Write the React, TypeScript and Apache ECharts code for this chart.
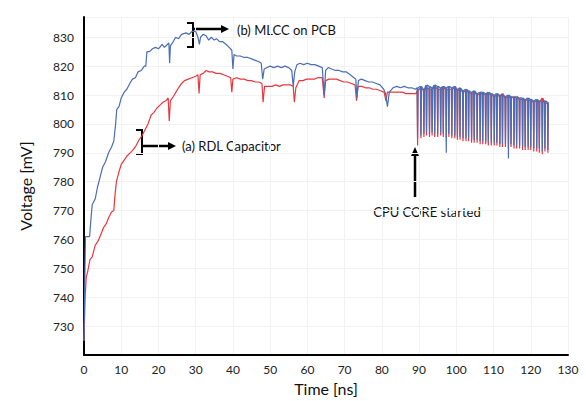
import React, { useEffect, useRef } from "react";
import * as echarts from "echarts";

// ---- Data ----
// MLCC on PCB (blue), before CPU core start
const blueTimes = [0, 0.2, 0.4, 1.5, 1.8, 2.2, 3.0, 3.6, 4.2, 5.0, 5.8, 6.6, 7.4, 8.0, 8.5, 8.8, 9.4, 10.0, 10.8, 11.5, 12.3, 13.0, 13.8, 14.5, 15.4, 16.2, 16.6, 16.9, 17.6, 18.4, 19.2, 20.0, 21.0, 21.6, 22.4, 22.8, 23.0, 23.2, 24.0, 24.6, 25.4, 26.2, 27.4, 28.2, 29.0, 30.0, 30.6, 31.0, 31.3, 32.0, 32.8, 33.5, 34.2, 35.0, 35.6, 36.4, 37.2, 38.2, 39.0, 39.7, 40.0, 40.3, 41.0, 42.0, 43.0, 44.0, 45.0, 46.0, 47.0, 47.6, 48.0, 48.4, 49.2, 50.0, 51.0, 52.0, 53.0, 54.0, 55.0, 55.8, 56.2, 56.6, 57.2, 58.0, 59.0, 60.0, 61.0, 62.0, 63.0, 64.0, 64.5, 64.9, 65.6, 66.5, 67.5, 68.5, 69.5, 70.5, 71.5, 72.5, 73.0, 73.3, 73.7, 74.5, 75.5, 76.5, 77.5, 78.5, 79.5, 80.5, 81.0, 81.5, 82.0, 83.0, 84.0, 85.0, 86.0, 87.0, 88.0, 89.0];
const blueValues = [725, 745, 761, 761, 766, 772, 774, 778, 781, 785, 787, 790, 792, 794, 800, 805, 806, 809, 811, 812, 814, 815.5, 816, 818, 818.5, 820, 820, 825, 825, 826, 826.5, 826, 827.5, 826.5, 827.5, 828, 821, 827, 828.5, 830, 829.5, 831, 831.5, 831, 832, 832, 830, 827.5, 830, 831, 830.5, 829, 830, 829, 829.5, 828.5, 828.5, 827.5, 826.5, 825.5, 819, 824, 823.5, 823.5, 823, 823, 822.5, 822, 821.5, 821, 815.5, 819, 819.5, 820, 819.5, 820, 819.5, 820, 819.5, 818.5, 813, 818, 820.5, 821, 820.5, 821, 820.5, 820.5, 820, 819.5, 810, 818.5, 819.5, 819, 818.5, 818.5, 818, 818, 817, 816, 815.5, 809, 815, 815.5, 815, 814.5, 814.5, 814, 813.5, 812, 810.5, 806, 811, 812.5, 813, 812.5, 813, 812.5, 812.5, 812];

// RDL Capacitor (red), before CPU core start
const redTimes = [0, 0.3, 0.6, 1.0, 1.6, 2.2, 3.0, 3.8, 4.6, 5.2, 6.0, 6.6, 7.4, 8.0, 8.3, 8.7, 9.3, 10.0, 10.8, 11.6, 12.4, 13.2, 14.0, 14.8, 15.6, 16.4, 17.2, 18.0, 18.8, 19.6, 20.4, 21.2, 22.0, 22.6, 22.9, 23.2, 24.0, 24.7, 25.4, 26.2, 27.0, 28.0, 29.0, 30.0, 30.6, 30.9, 31.2, 32.0, 32.8, 33.6, 34.5, 35.5, 36.5, 37.5, 38.5, 39.4, 39.7, 40.0, 41.0, 42.0, 43.0, 44.0, 45.0, 46.0, 47.0, 47.8, 48.1, 48.5, 49.5, 50.5, 51.5, 52.5, 53.5, 54.5, 55.5, 56.2, 56.5, 56.9, 57.8, 58.8, 59.8, 60.8, 61.8, 62.8, 64.0, 64.5, 64.9, 65.8, 66.8, 67.8, 68.8, 69.8, 70.8, 71.8, 72.8, 73.2, 73.6, 74.6, 75.6, 76.6, 77.6, 78.6, 79.6, 80.6, 81.1, 81.5, 82.5, 83.5, 84.5, 85.5, 86.5, 87.5, 88.5, 89.2];
const redValues = [725, 740, 747, 749, 753, 754, 758, 759.5, 762, 764, 765.5, 767.5, 769.5, 770, 775, 780, 783, 786, 787.5, 789, 790, 791, 792.5, 794.5, 796, 798, 800, 803, 804, 805.5, 806.5, 807.5, 808, 809, 801, 808, 809.5, 811, 812.5, 814, 815, 815.5, 816, 816.5, 817, 810.5, 817, 817.5, 818.5, 818, 818, 817.5, 817.5, 817, 816.5, 816, 811, 815.5, 816, 815.5, 815.5, 815, 815, 814.5, 814.5, 814, 807.5, 813, 813, 813, 813.5, 813, 813.5, 813.5, 813.5, 813, 807.5, 812.5, 815, 815, 815.5, 815.5, 815.5, 816, 816, 809, 815, 815.5, 815.5, 815.5, 815, 814.5, 814.5, 814, 813.5, 808, 813, 813, 812.5, 812.5, 812, 812, 811.5, 811, 808, 811, 811, 811, 811, 811, 810.5, 810.5, 810.5, 810.5];

// After "CPU CORE started": switching spikes
const spikeTimes = [89.6, 90.5, 91.3, 92.0, 92.8, 93.5, 94.2, 95.0, 95.8, 96.5, 97.3, 98.0, 98.8, 99.6, 100.3, 101.0, 101.8, 102.6, 103.3, 104.1, 104.8, 105.6, 106.4, 107.1, 107.9, 108.6, 109.4, 110.2, 110.9, 111.7, 112.4, 113.2, 114.0, 114.7, 115.5, 116.2, 117.0, 117.8, 118.5, 119.3, 120.0, 120.8, 121.6, 122.3, 123.1, 123.8, 124.6];
const blueTops = [812.5, 813, 812, 813.5, 813, 812.5, 813.5, 813, 812.5, 813, 812.5, 813, 812.5, 813, 812, 812.5, 811.5, 812, 811.5, 811, 811.5, 810.5, 811, 811, 810.5, 811, 810.5, 810, 810.5, 810, 810, 809.5, 810, 809.5, 809, 809.5, 809, 809, 808.5, 809, 808.5, 808, 808.5, 808, 807.5, 808, 807.5];
const blueBottoms = [795, 796, 796.5, 797, 796.5, 797, 796.5, 796.5, 797, 796.5, 790, 796.5, 796, 796, 795.5, 795.5, 795, 795, 795, 794.5, 794.5, 794.5, 794, 794, 794, 793.5, 793.5, 793.5, 793.5, 793, 793, 793, 788, 793, 792.5, 792.5, 792.5, 792, 792, 792, 792, 791.5, 791.5, 791.5, 790.5, 791.5, 791];
const redTops = [811.5, 812.5, 811.5, 812.5, 812, 812, 813, 812, 812, 812.5, 812, 812, 812, 812.5, 811.5, 812, 811, 811.5, 811, 810.5, 811, 810, 810.5, 810.5, 810, 810.5, 810, 809.5, 810, 809.5, 810.5, 809, 809.5, 809, 809.5, 809, 808.5, 808.5, 808, 808.5, 808, 807.5, 808, 807.5, 809, 807.5, 807];
const redBottoms = [792.5, 795, 795.5, 796, 795.5, 796, 795.5, 795.5, 796, 795.5, 795, 795.5, 795, 795, 794.5, 794.5, 794, 794, 794, 793.5, 793.5, 793.5, 793, 793, 793, 792.5, 792.5, 792.5, 792.5, 792, 792, 792, 791.5, 792, 791.5, 791.5, 791.5, 791, 791, 791, 791, 790.5, 790.5, 790, 789.5, 790.5, 790];

const xTicks = { min: 0, max: 130, interval: 10 };
const yTicks = { min: 720, max: 837, interval: 10 };

const FONT = "Lato";

function buildSeries(times: number[], values: number[], tops: number[], bottoms: number[]) {
  const pts: number[][] = times.map((t, i) => [t, values[i]]);
  spikeTimes.forEach((t, i) => {
    pts.push([t - 0.12, tops[i]]);
    pts.push([t, bottoms[i]]);
    pts.push([t + 0.12, tops[i]]);
  });
  return pts;
}

export default function App() {
  const ref = useRef<HTMLDivElement>(null);
  useEffect(() => {
    if (!ref.current) return;
    const chart = echarts.init(ref.current, null, { renderer: "svg" });
    const blue = buildSeries(blueTimes, blueValues, blueTops, blueBottoms);
    const red = buildSeries(redTimes, redValues, redTops, redBottoms);
    chart.setOption({
      animation: false,
      backgroundColor: "#ffffff",
      grid: { left: 84, right: 18, top: 17, bottom: 42 },
      xAxis: {
        type: "value",
        min: xTicks.min,
        max: xTicks.max,
        interval: xTicks.interval,
        name: "Time [ns]",
        nameLocation: "middle",
        nameGap: 23,
        nameTextStyle: { fontFamily: FONT, fontSize: 16, color: "#111" },
        axisLine: { show: true, lineStyle: { color: "#000", width: 2 } },
        axisTick: { show: false },
        axisLabel: { fontFamily: FONT, fontSize: 12, color: "#222", margin: 8 },
        splitLine: { show: true, lineStyle: { color: "#f2f2f2", width: 1 } },
      },
      yAxis: {
        type: "value",
        min: yTicks.min,
        max: yTicks.max,
        interval: yTicks.interval,
        name: "Voltage [mV]",
        nameLocation: "middle",
        nameGap: 51,
        nameTextStyle: { fontFamily: FONT, fontSize: 16, color: "#111" },
        axisLine: { show: true, lineStyle: { color: "#000", width: 2 } },
        axisTick: { show: false },
        axisLabel: { fontFamily: FONT, fontSize: 12, color: "#222", margin: 10, showMinLabel: false, showMaxLabel: false },
        splitLine: { show: true, lineStyle: { color: "#f2f2f2", width: 1 } },
      },
      series: [
        {
          name: "(a) RDL Capacitor",
          type: "line",
          data: red,
          showSymbol: false,
          lineStyle: { color: "#e8383e", width: 1.2 },
          itemStyle: { color: "#e8383e" },
        },
        {
          name: "(b) MLCC on PCB",
          type: "line",
          data: blue,
          showSymbol: false,
          lineStyle: { color: "#4a6db5", width: 1.2 },
          itemStyle: { color: "#4a6db5" },
        },
      ],
      graphic: [
        // (b) bracket + arrow
        { type: "polyline", shape: { points: [[187, 23], [193, 23], [193, 47], [187, 47]] }, style: { stroke: "#000", lineWidth: 2, fill: null } },
        { type: "line", shape: { x1: 193, y1: 29, x2: 222, y2: 29 }, style: { stroke: "#000", lineWidth: 2.5 } },
        { type: "polygon", shape: { points: [[221, 25], [229, 29], [221, 33]] }, style: { fill: "#000" } },
        { type: "text", x: 237, y: 30, style: { text: "(b) MLCC on PCB", font: `13px ${FONT}`, fill: "#111", verticalAlign: "middle" } },
        // (a) bracket + arrow
        { type: "polyline", shape: { points: [[136, 130], [142, 130], [142, 154], [136, 154]] }, style: { stroke: "#000", lineWidth: 2, fill: null } },
        { type: "line", shape: { x1: 142, y1: 146, x2: 169, y2: 146 }, style: { stroke: "#000", lineWidth: 2.5 } },
        { type: "polygon", shape: { points: [[168, 142], [176, 146], [168, 150]] }, style: { fill: "#000" } },
        { type: "text", x: 182, y: 146, style: { text: "(a) RDL Capacitor", font: `13px ${FONT}`, fill: "#111", verticalAlign: "middle" } },
        // CPU CORE arrow
        { type: "line", shape: { x1: 415, y1: 197, x2: 415, y2: 154 }, style: { stroke: "#000", lineWidth: 2.5 } },
        { type: "polygon", shape: { points: [[411, 156], [415, 147], [419, 156]] }, style: { fill: "#000" } },
        { type: "text", x: 427, y: 212, style: { text: "CPU CORE started", font: `13px ${FONT}`, fill: "#111", align: "center", verticalAlign: "middle" } },
      ],
    });
    return () => chart.dispose();
  }, []);
  return <div ref={ref} style={{ position: "absolute", left: 0, top: 0, width: 586, height: 401 }} />;
}
